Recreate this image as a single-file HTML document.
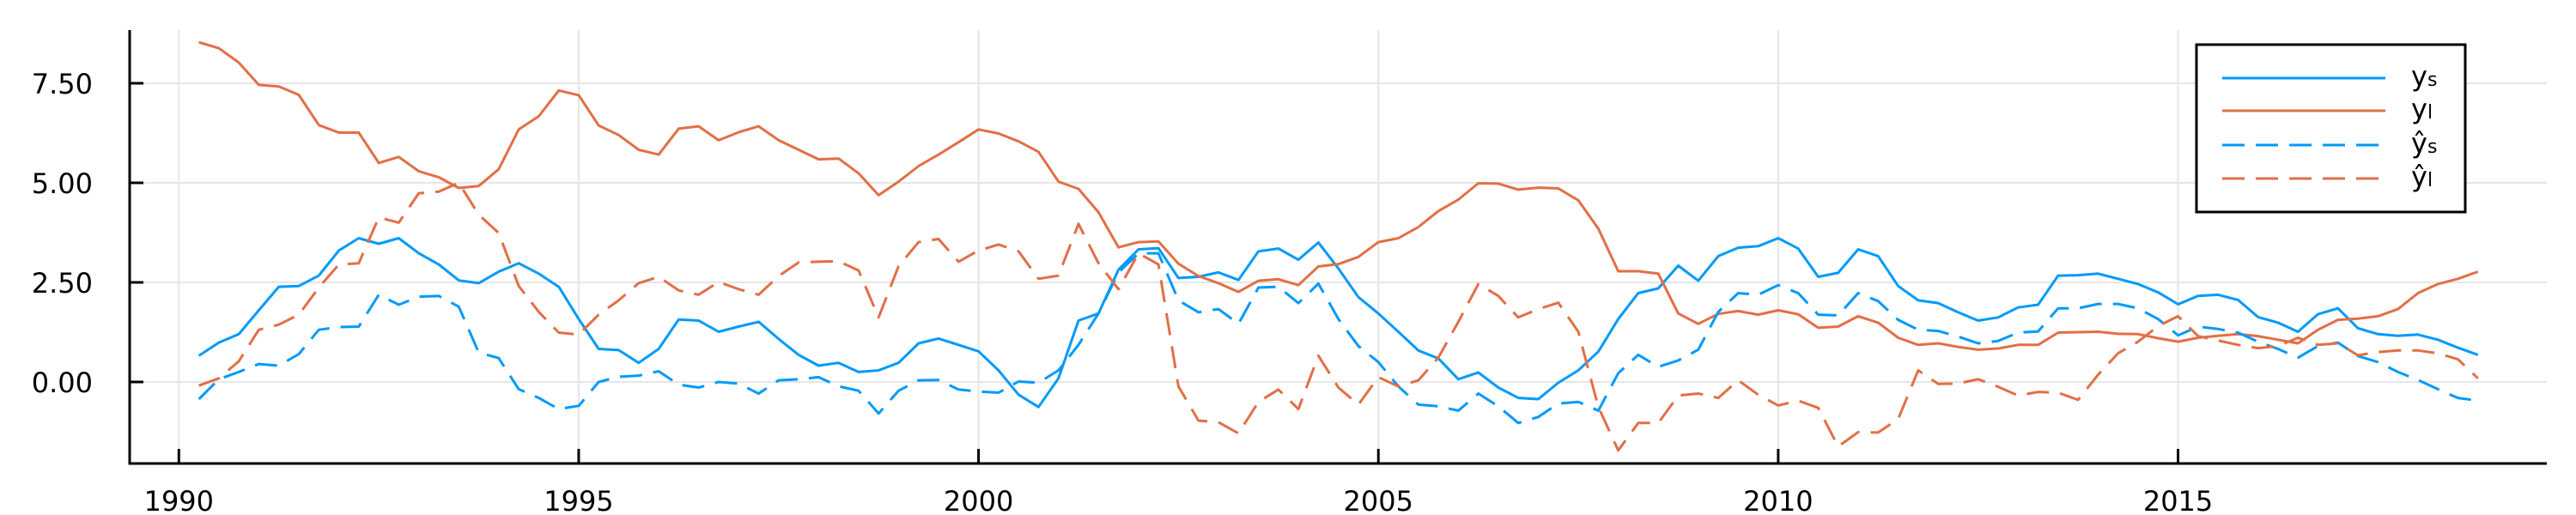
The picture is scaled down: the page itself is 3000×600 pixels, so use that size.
<!DOCTYPE html>
<html><head><meta charset="utf-8"><style>
html,body{margin:0;padding:0;background:#fff;}
svg{display:block;}
text{font-family:"DejaVu Sans","Liberation Sans",sans-serif;fill:#000;}
</style></head><body>
<svg id="chart" width="3000" height="600" viewBox="0 0 3000 600" xmlns="http://www.w3.org/2000/svg">
<rect x="0" y="0" width="3000" height="600" fill="#fff"/>
<g id="grid"></g>
<g id="series"></g>
<g id="axes"></g>
<g id="legend">
<rect x="2558" y="52" width="313" height="195" fill="#fff" stroke="#000" stroke-width="3"/>
<g><line x1="2588" y1="91" x2="2778" y2="91" stroke="#009AFA" stroke-width="3"/><text x="2808" y="100" font-size="32">y<tspan font-size="22">s</tspan></text></g>
<g><line x1="2588" y1="129" x2="2778" y2="129" stroke="#E26F46" stroke-width="3"/><text x="2808" y="138" font-size="32">y<tspan font-size="22">l</tspan></text></g>
<g><line x1="2588" y1="169" x2="2778" y2="169" stroke="#009AFA" stroke-width="3" stroke-dasharray="26,13"/><text x="2808" y="178" font-size="32">ŷ<tspan font-size="22">s</tspan></text></g>
<g><line x1="2588" y1="208" x2="2778" y2="208" stroke="#E26F46" stroke-width="3" stroke-dasharray="26,13"/><text x="2808" y="217" font-size="32">ŷ<tspan font-size="22">l</tspan></text></g>
</g>
</svg>
<script>
const startYear = 1990.25;
const step = 0.25;
const ys = [0.66,0.99,1.20,1.80,2.39,2.41,2.67,3.30,3.61,3.47,3.61,3.23,
2.95,2.55,2.48,2.77,2.98,2.72,2.39,1.58,0.83,0.80,0.48,0.83,1.57,1.54,1.26,
1.39,1.51,1.08,0.68,0.41,0.48,0.25,0.29,0.48,0.97,1.09,0.93,0.77,0.29,-0.32,
-0.63,0.09,1.54,1.72,2.82,3.33,3.36,2.61,2.64,2.75,2.56,3.28,3.35,3.07,
3.50,2.85,2.13,1.72,1.26,0.79,0.59,0.07,0.24,-0.14,-0.40,-0.43,-0.02,0.29,0.76,
1.58,2.23,2.35,2.92,2.54,3.16,3.37,3.41,3.61,3.35,2.64,2.74,3.33,3.16,
2.41,2.05,1.98,1.75,1.54,1.62,1.87,1.94,2.67,2.68,2.72,2.59,2.46,2.25,1.95,
2.16,2.19,2.06,1.63,1.49,1.26,1.70,1.85,1.35,1.20,1.16,1.19,1.06,0.86,0.68];
const yl = [8.53,8.38,8.02,7.46,7.42,7.21,6.45,6.26,6.26,5.50,5.65,5.29,
5.14,4.87,4.92,5.34,6.34,6.67,7.32,7.20,6.44,6.20,5.83,5.71,6.36,6.42,6.07,
6.27,6.42,6.07,5.83,5.59,5.61,5.24,4.69,5.03,5.42,5.71,6.02,6.34,6.24,6.04,
5.78,5.03,4.85,4.26,3.38,3.51,3.53,2.97,2.66,2.48,2.26,2.54,2.58,2.43,
2.90,2.96,3.14,3.51,3.61,3.89,4.29,4.58,4.99,4.98,4.83,4.88,4.86,4.56,3.85,
2.78,2.78,2.72,1.72,1.46,1.71,1.78,1.69,1.80,1.70,1.36,1.39,1.65,1.49,
1.11,0.93,0.97,0.88,0.81,0.84,0.93,0.93,1.24,1.25,1.26,1.21,1.20,1.10,1.01,
1.11,1.16,1.20,1.15,1.06,0.97,1.31,1.56,1.59,1.65,1.83,2.23,2.46,2.59,2.77];
const yhatS = [-0.43,0.07,0.25,0.45,0.41,0.70,1.31,1.38,1.39,2.19,1.94,2.14,
2.16,1.89,0.74,0.60,-0.18,-0.40,-0.68,-0.60,0.0,0.13,0.16,0.27,-0.07,-0.14,0.0,
-0.04,-0.29,0.04,0.07,0.12,-0.11,-0.22,-0.79,-0.22,0.04,0.05,-0.19,-0.24,-0.27,0.01,
-0.02,0.29,0.93,1.72,2.75,3.23,3.23,2.05,1.75,1.83,1.46,2.37,2.39,1.98,
2.47,1.58,0.90,0.50,-0.11,-0.57,-0.61,-0.72,-0.29,-0.61,-1.03,-0.88,-0.54,-0.50,-0.72,
0.22,0.68,0.38,0.54,0.81,1.76,2.23,2.19,2.43,2.23,1.69,1.67,2.23,2.03,
1.56,1.31,1.28,1.14,0.97,1.03,1.24,1.27,1.85,1.85,1.96,1.96,1.85,1.58,1.17,
1.39,1.33,1.24,1.01,0.83,0.61,0.90,0.99,0.65,0.50,0.25,0.05,-0.18,-0.40,-0.47];
const yhatL = [-0.09,0.09,0.52,1.31,1.44,1.69,2.37,2.95,2.98,4.13,4.00,4.74,
4.78,5.0,4.20,3.74,2.41,1.76,1.24,1.19,1.69,2.05,2.48,2.64,2.30,2.19,2.51,
2.33,2.19,2.66,3.00,3.02,3.03,2.80,1.62,2.91,3.51,3.59,3.02,3.30,3.45,3.28,
2.59,2.67,3.97,2.98,2.33,3.23,2.95,-0.11,-0.97,-1.01,-1.29,-0.50,-0.19,-0.68,
0.66,-0.14,-0.57,0.12,-0.11,0.04,0.61,1.51,2.46,2.16,1.62,1.83,1.99,1.26,-0.63,
-1.72,-1.03,-1.03,-0.34,-0.29,-0.40,0.04,-0.32,-0.59,-0.47,-0.65,-1.62,-1.26,-1.27,
-0.93,0.29,-0.05,-0.04,0.07,-0.12,-0.34,-0.25,-0.27,-0.45,0.18,0.72,1.01,1.40,1.65,
1.15,1.04,0.93,0.85,0.90,1.11,0.93,0.97,0.67,0.75,0.79,0.79,0.72,0.57,0.09];
const xTicks = [1990,1995,2000,2005,2010,2015];
const yTicks = [0,2.5,5,7.5];
const yTickLabels = ["0.00","2.50","5.00","7.50"];

const NS = "http://www.w3.org/2000/svg";
const X0 = 208.3, XS = 93.13, Y0 = 445, YS = 46.4;
const PL = 151, PR = 2966, PT = 35, PB = 540;
function xScale(t){ return X0 + XS*(t-1990); }
function yScale(v){ return Y0 - YS*v; }
function mk(tag, attrs, parent){ const e=document.createElementNS(NS,tag); for(const k in attrs) e.setAttribute(k,attrs[k]); parent.appendChild(e); return e; }

const grid = document.getElementById('grid');
const axes = document.getElementById('axes');
const series = document.getElementById('series');

xTicks.forEach(t=>{
  const x = xScale(t);
  const g = mk('line',{x1:x,y1:PT,x2:x,y2:PB,stroke:'#e6e6e6','stroke-width':2},grid);
  
  
  const tk = mk('line',{x1:x,y1:PB,x2:x,y2:PB-17,stroke:'#000','stroke-width':3},axes);
  
  
  const lb = mk('text',{x:x,y:595,'font-size':32,'text-anchor':'middle'},axes);
  lb.textContent = String(t);
  
  
});
yTicks.forEach((v,i)=>{
  const y = yScale(v);
  const g = mk('line',{x1:PL,y1:y,x2:PR,y2:y,stroke:'#e6e6e6','stroke-width':2},grid);
  
  
  const tk = mk('line',{x1:PL,y1:y,x2:PL+16,y2:y,stroke:'#000','stroke-width':3},axes);
  
  
  const lb = mk('text',{x:108,y:y+12,'font-size':32,'text-anchor':'end'},axes);
  lb.textContent = yTickLabels[i];
  
  
});
const xa = mk('line',{x1:PL,y1:PB,x2:PR,y2:PB,stroke:'#000','stroke-width':3},axes);


const ya = mk('line',{x1:PL,y1:PT,x2:PL,y2:PB+1.5,stroke:'#000','stroke-width':3},axes);



function drawSeries(vals, color, dashed, name){
  const pts = vals.map((v,i)=> xScale(startYear+i*step).toFixed(1)+','+yScale(v).toFixed(1)).join(' ');
  const attrs = {points:pts,fill:'none',stroke:color,'stroke-width':3,'stroke-linejoin':'round'};
  if(dashed) attrs['stroke-dasharray']='26,13';
  const p = mk('polyline',attrs,series);
  
  
}
drawSeries(ys,'#009AFA',false,'series-ys');
drawSeries(yl,'#E26F46',false,'series-yl');
drawSeries(yhatS,'#009AFA',true,'series-yhat-s');
drawSeries(yhatL,'#E26F46',true,'series-yhat-l');
</script>
</body></html>
